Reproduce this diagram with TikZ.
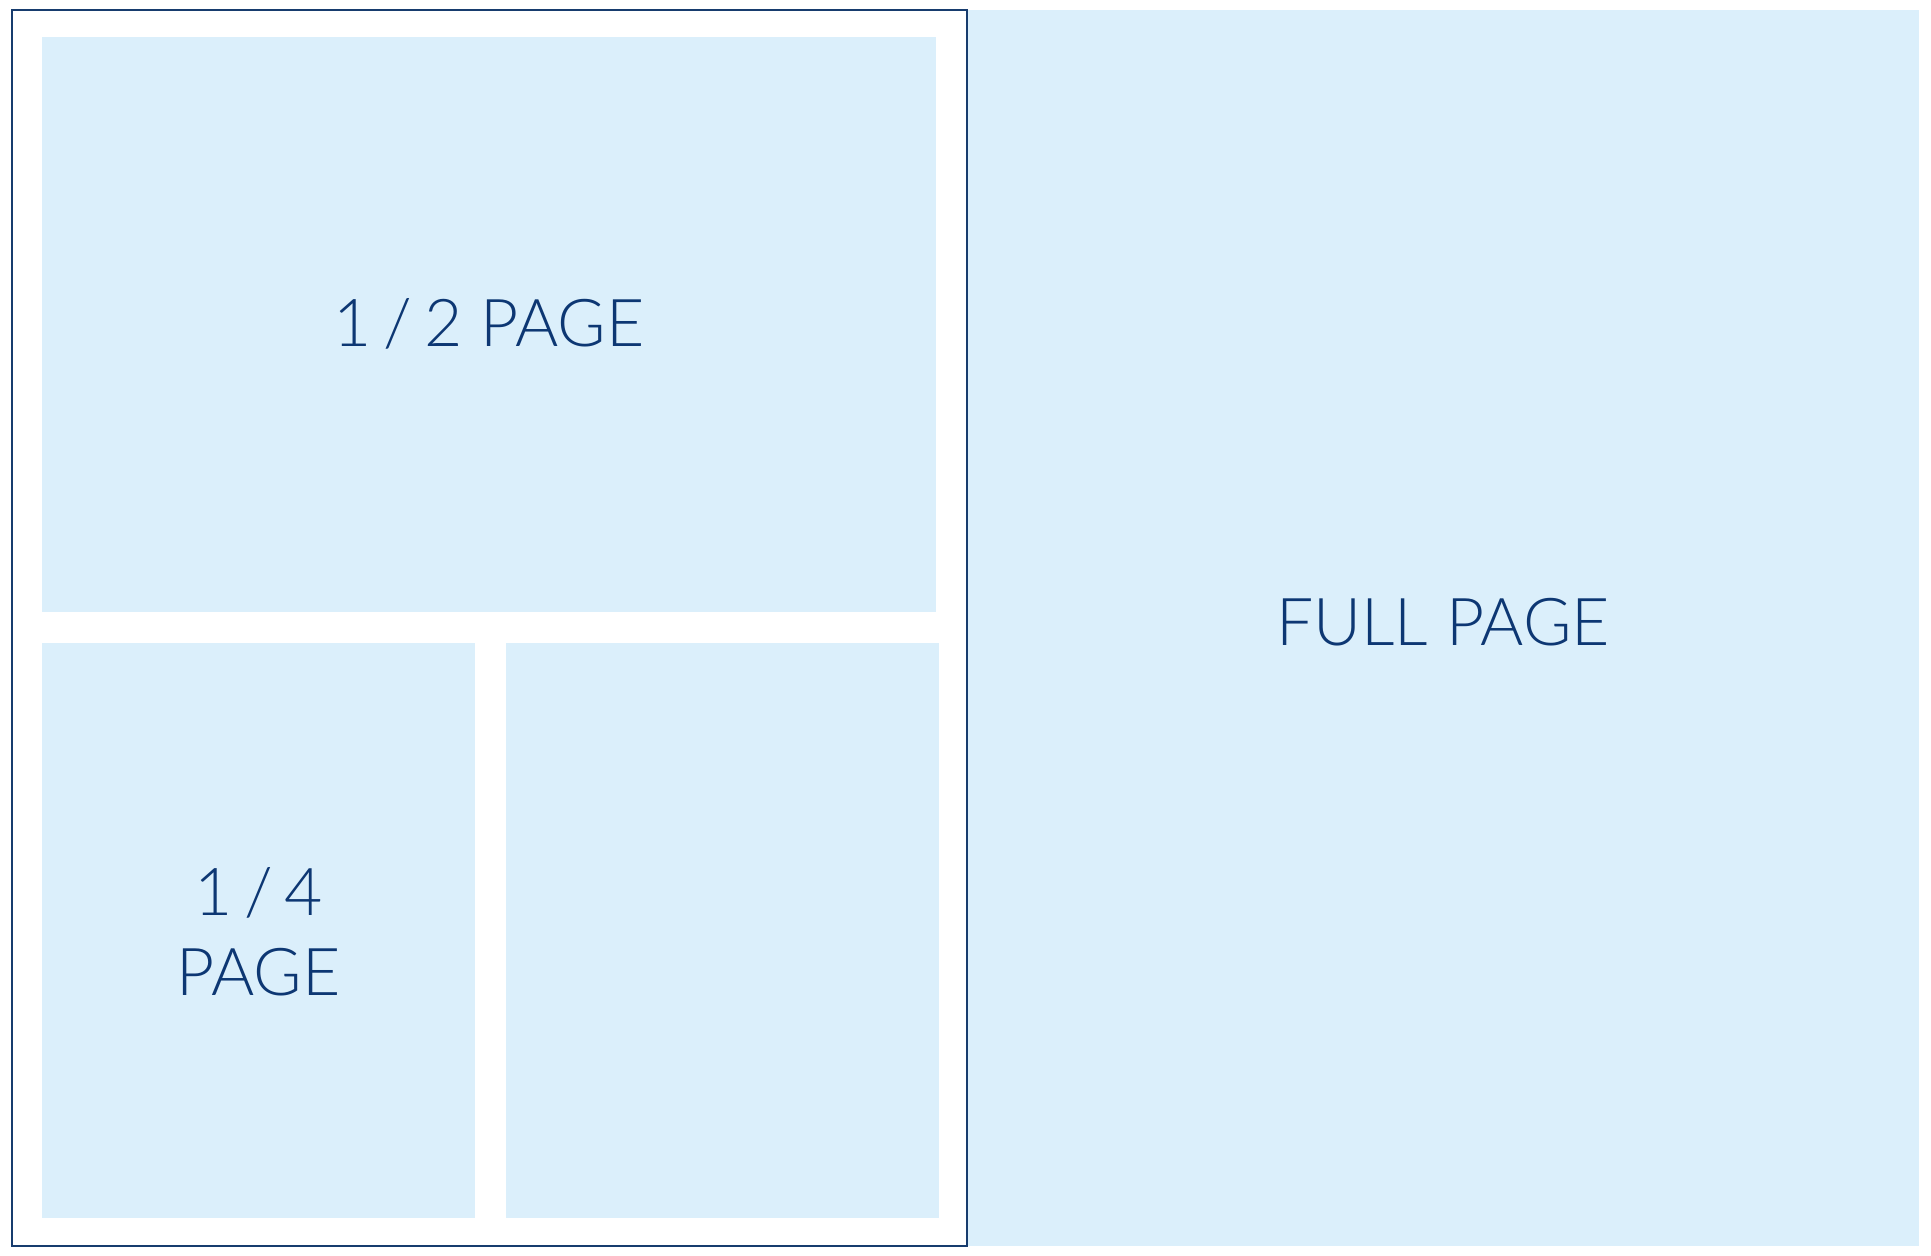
\documentclass[tikz,border=0pt]{standalone}
\usepackage{fontspec}
\setmainfont{Lato Light}
\definecolor{boxblue}{HTML}{DBEFFB}
\definecolor{inkblue}{HTML}{0D3773}
\definecolor{framecol}{HTML}{173C6E}
\begin{document}
\begin{tikzpicture}[x=1pt,y=-1pt,
  panel/.style={fill=boxblue,draw=none},
  lbl/.style={text=inkblue,font=\fontsize{66}{80}\selectfont,align=center,inner sep=0pt}]
\useasboundingbox (0,0) rectangle (1931,1256);
\fill[white] (0,0) rectangle (1931,1256);
% full page
\path[panel] (967,10) rectangle (1919,1246);
% half
\path[panel] (42,37) rectangle (936,612);
\path[panel] (42,643) rectangle (475,1218);
\path[panel] (506,643) rectangle (939,1218);
% frame
\draw[framecol,line width=2.4pt] (12,10) rectangle (967,1246);
\node[lbl] (half) at (489,324) {1\hspace{0.18em}/\hspace{0.18em}2 PAGE};
\node[lbl] (quarter) at (258.5,932) {1\hspace{0.18em}/\hspace{0.18em}4\\PAGE};
\node[lbl] (full) at (1443,622) {FULL PAGE};
\end{tikzpicture}
\end{document}
